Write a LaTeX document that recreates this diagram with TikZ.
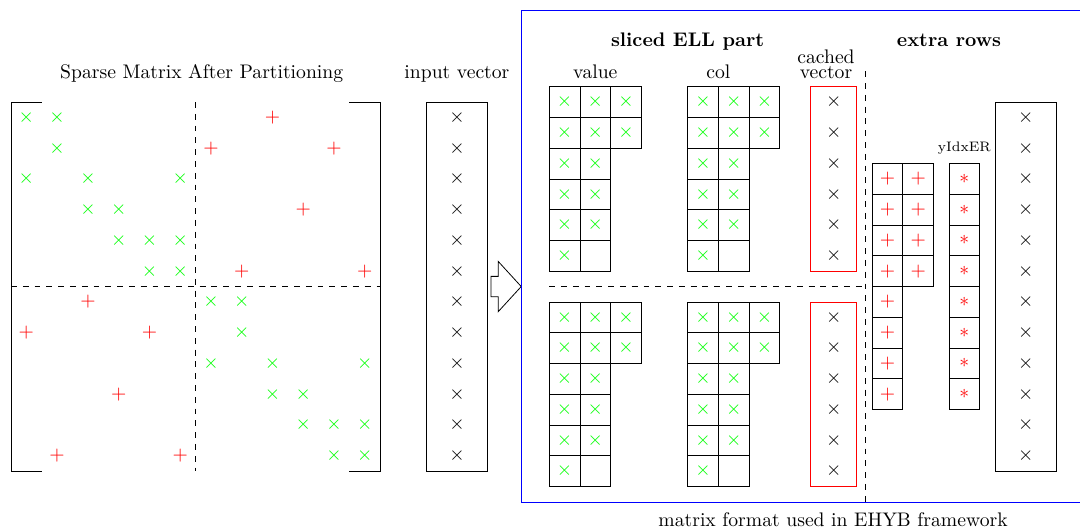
\documentclass[tikz,border=0pt]{standalone}
\usepackage{amsmath, amssymb}
\usepackage{xcolor}
\usepackage{tikz}

\begin{document}
\begin{tikzpicture}[x=0.55cm, y=0.55cm,
  gx/.style={text=green, inner sep=0pt},
  rp/.style={text=red, inner sep=0pt},
  bx/.style={text=black, inner sep=0pt},
  lbl/.style={anchor=base}]
\useasboundingbox (-0.358,3.317) rectangle (34.76,-13.886);

% sparse matrix
\draw (1,0) -- (0,0) -- (0,-12) -- (1,-12);
\draw (11,0) -- (12,0) -- (12,-12) -- (11,-12);
\draw[dashed] (6,0) -- (6,-12);
\draw[dashed] (0,-6) -- (12,-6);
\foreach \r/\c in {0/0,0/1,1/1,2/0,2/2,2/5,3/2,3/3,4/3,4/4,4/5,5/4,5/5,
                   6/6,6/7,7/7,8/6,8/8,8/11,9/8,9/9,10/9,10/10,10/11,11/10,11/11}
  \node[gx] (a\r-\c) at (\c+0.5,-\r-0.5) {$\times$};
\foreach \r/\c in {0/8,1/6,1/10,3/9,5/7,5/11,6/2,7/0,7/4,9/3,11/1,11/5}
  \node[rp] (a\r-\c) at (\c+0.5,-\r-0.5) {$+$};
\node[lbl] (title) at (6.2,0.78) {Sparse Matrix After Partitioning};

% input vector
\draw (13.5,0) rectangle (15.5,-12);
\foreach \r in {0,...,11}
  \node[bx] (in\r) at (14.5,-\r-0.5) {$\times$};
\node[lbl] (inlbl) at (14.5,0.78) {input vector};

\draw[fill=white] (15.61,-5.67) -- (15.84,-5.67) -- (15.84,-5.18) -- (16.59,-6)
  -- (15.84,-6.82) -- (15.84,-6.33) -- (15.61,-6.33) -- cycle;

% EHYB format
\draw[blue] (16.59,2.99) rectangle (35,-13.01);
\node[lbl] (fmt) at (26.73,-13.8) {matrix format used in EHYB framework};
\node[lbl,font=\bfseries] (ell) at (22,1.82) {sliced ELL part};
\node[lbl,font=\bfseries] (extra) at (30.5,1.82) {extra rows};
\node[lbl] (vallbl) at (19,0.77) {value};
\node[lbl] (collbl) at (23,0.77) {col};
\node[anchor=north, align=center] (cachedlbl) at (26.5,1.91) {cached\\[-4.3pt]vector};

\foreach \x/\y/\n in {17.5/0.5/vu, 22/0.5/cu, 17.5/-6.5/vl, 22/-6.5/cl} {
  \foreach \r in {0,1} \foreach \c in {0,1,2} {
    \draw (\x+\c,\y-\r) rectangle ++(1,-1);
    \node[gx] (\n-\r-\c) at (\x+\c+0.5,\y-\r-0.5) {$\times$};
  }
  \foreach \r in {2,...,5} \foreach \c in {0,1}
    \draw (\x+\c,\y-\r) rectangle ++(1,-1);
  \foreach \r in {2,3,4} \foreach \c in {0,1}
    \node[gx] (\n-\r-\c) at (\x+\c+0.5,\y-\r-0.5) {$\times$};
  \node[gx] (\n-5-0) at (\x+0.5,\y-5.5) {$\times$};
}

% cached vectors
\draw[red] (26,0.5) rectangle (27.5,-5.5);
\draw[red] (26,-6.5) rectangle (27.5,-12.5);
\foreach \r in {0,...,5} {
  \node[bx] (cu\r) at (26.75,-\r) {$\times$};
  \node[bx] (cl\r) at (26.75,-\r-7) {$\times$};
}

\draw[dashed] (17.5,-6) -- (27.77,-6);
\draw[dashed] (27.77,1) -- (27.77,-13.01);

% extra rows
\foreach \r in {0,...,7} {
  \draw (28,-2-\r) rectangle ++(1,-1);
  \node[rp] (er\r-0) at (28.5,-2.5-\r) {$+$};
  \draw (30.5,-2-\r) rectangle ++(1,-1);
  \node[rp] (yi\r) at (31,-2.5-\r) {$*$};
}
\foreach \r in {0,...,3} {
  \draw (29,-2-\r) rectangle ++(1,-1);
  \node[rp] (er\r-1) at (29.5,-2.5-\r) {$+$};
}
\node[lbl,font=\scriptsize] (yidx) at (31,-1.61) {yIdxER};

% output vector
\draw (32,0) rectangle (34,-12);
\foreach \r in {0,...,11}
  \node[bx] (out\r) at (33,-\r-0.5) {$\times$};
\end{tikzpicture}
\end{document}
